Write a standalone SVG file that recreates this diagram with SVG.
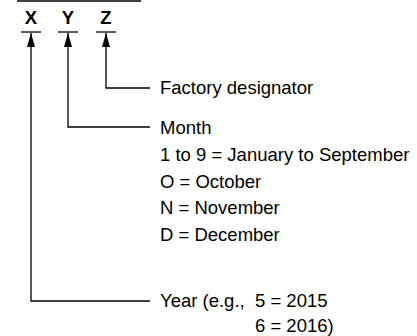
<svg xmlns="http://www.w3.org/2000/svg" width="417" height="336" viewBox="0 0 417 336">
<style>
.ln{stroke:#000;stroke-width:1.3;fill:none}
.lbl{font-family:"Liberation Sans",Arial,sans-serif;font-weight:bold;font-size:18.5px;text-anchor:middle;fill:#000}
.t{font-family:"Liberation Sans",Arial,sans-serif;font-size:18.5px;fill:#000}
</style>
<defs>
<marker id="ah" viewBox="0 0 14 8" refX="14" refY="4" markerWidth="14" markerHeight="8" markerUnits="userSpaceOnUse" orient="auto">
<path d="M0,0 L14,4 L0,8 Z" fill="#000"/>
</marker>
</defs>
<rect width="417" height="336" fill="#fff"/>
<line x1="17" y1="1" x2="141" y2="1" class="ln" stroke-width="1.5"/>
<g id="nX"><text x="31" y="24" class="lbl">X</text><line x1="21" y1="32" x2="41" y2="32" class="ln"/></g>
<g id="nY"><text x="68" y="24" class="lbl">Y</text><line x1="58" y1="32" x2="78" y2="32" class="ln"/></g>
<g id="nZ"><text x="106" y="24" class="lbl">Z</text><line x1="96" y1="32" x2="116" y2="32" class="ln"/></g>
<g id="connectors">
<path d="M150,301 H31 V33" class="ln" marker-end="url(#ah)"/>
<path d="M150,127 H68 V33" class="ln" marker-end="url(#ah)"/>
<path d="M150,88 H106 V33" class="ln" marker-end="url(#ah)"/>
</g>
<g id="factory"><text x="160" y="94" class="t">Factory designator</text></g>
<g id="month">
<text x="160" y="134" class="t">Month</text>
<text x="160" y="161" class="t">1 to 9 = January to September</text>
<text x="160" y="188" class="t">O = October</text>
<text x="160" y="214" class="t">N = November</text>
<text x="160" y="241" class="t">D = December</text>
</g>
<g id="year">
<text x="160" y="307" class="t">Year (e.g.,</text>
<text x="255" y="307" class="t">5 = 2015</text>
<text x="255" y="332" class="t">6 = 2016)</text>
</g>
</svg>
